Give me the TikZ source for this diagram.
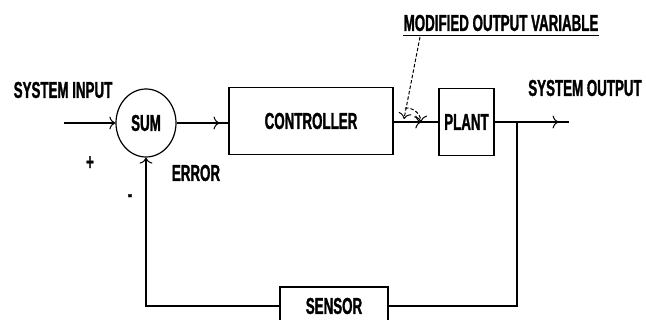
\documentclass[tikz,border=0pt]{standalone}
\usepackage{fontspec}
\newfontfamily\lbl{Liberation Sans}[FakeStretch=0.58,FakeBold=1.2]
\usetikzlibrary{arrows.meta,shapes.geometric,decorations.markings}
\begin{document}
\begin{tikzpicture}[x=1pt,y=-1pt,
  every node/.style={font=\lbl\bfseries\fontsize{23}{24}\selectfont, inner sep=0pt},
  blk/.style={draw, line width=1.3pt, rectangle},
  wire/.style={line width=1.3pt},
  tip/.style={-{Computer Modern Rightarrow[length=6pt,width=13pt,line width=1pt]}},
  midtip/.style={decoration={markings,mark=at position #1 with {\arrow{Computer Modern Rightarrow[length=6pt,width=13pt,line width=1pt]}}},postaction={decorate}},
  lead/.style={line width=1pt, dash pattern=on 3.5pt off 2pt}
]
\useasboundingbox (0,0) rectangle (646,320);
\clip (0,0) rectangle (646,320);
\fill[white] (0,0) rectangle (646,320);

\node[draw, ellipse, line width=1.2pt, minimum width=60pt, minimum height=68pt] (sum) at (146,123) {SUM};
\node[blk, minimum width=164pt, minimum height=67pt] (ctrl) at (311,121) {CONTROLLER};
\node[blk, minimum width=55pt, minimum height=67pt] (plant) at (466.5,122) {PLANT};
\node[blk, minimum width=108pt, minimum height=38pt] (sensor) at (334,306) {SENSOR};

\coordinate (in) at (64,123);
\coordinate (out) at (569,122);
\coordinate (branch) at (517,122);

\node (tin) at (63,90) {SYSTEM INPUT};
\node (tout) at (585,88) {SYSTEM OUTPUT};
\node (terr) at (196,173) {ERROR};
\node (tplus) at (90,163) {+};
\node (tminus) at (130,198) {-};
\node (tmod) at (501,23) {MODIFIED OUTPUT VARIABLE};

\draw[wire, tip] (in) -- (sum.west);
\draw[wire, midtip=0.83] (sum.east) -- (ctrl.west |- sum.east);
\draw[wire, midtip=0.62] (ctrl.east |- plant.west) -- (plant.west);
\draw[wire, midtip=0.86] (plant.east) -- (out);
\draw[wire] (branch) |- (sensor.east);
\draw[wire, tip] (sensor.west) -| (sum.south);

\draw[line width=1pt] (tmod.south west) ++(0,4) coordinate (ul1) -- (tmod.south east |- ul1);
\coordinate (leadA) at (420,37);
\coordinate (leadB) at (404,119);
\draw[lead, tip] (leadA) -- (leadB);
\coordinate (arcA) at (405,108);
\coordinate (arcB) at (421,122);
\draw[lead, tip] (arcA) to[bend left=45] (arcB);
\end{tikzpicture}
\end{document}
